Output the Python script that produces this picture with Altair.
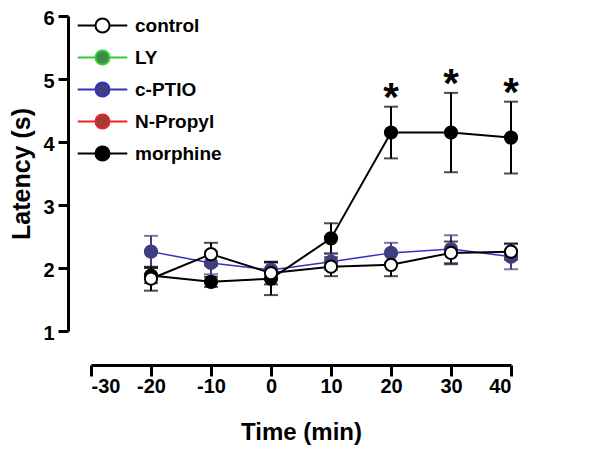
import altair as alt
import pandas as pd

# ---- data ----
times = [-20, -10, 0, 10, 20, 30, 40]
series_names = ["control", "LY", "c-PTIO", "N-Propyl", "morphine"]
line_colors = ["#000000", "#33cc33", "#3333bb", "#ee2222", "#000000"]
fill_colors = ["#ffffff", "#3d8a4a", "#3e3e80", "#a03c3c", "#000000"]

control_mean = [1.83, 2.22, 1.92, 2.02, 2.05, 2.24, 2.26]
control_sem = [0.19, 0.18, 0.18, 0.15, 0.18, 0.18, 0.13]
cptio_mean = [2.26, 2.08, 1.97, 2.10, 2.24, 2.30, 2.18]
cptio_sem = [0.25, 0.18, 0.12, 0.13, 0.16, 0.22, 0.20]
morphine_mean = [1.88, 1.78, 1.83, 2.47, 4.15, 4.15, 4.07]
morphine_sem = [0.12, 0.08, 0.26, 0.24, 0.41, 0.63, 0.57]
sig_times = [20, 30, 40]

x_ticks = [-30, -20, -10, 0, 10, 20, 30, 40]
y_ticks = [1, 2, 3, 4, 5, 6]

# ---- build table (draw order: c-PTIO, morphine, control) ----
style = {
    "c-PTIO": dict(pstroke="#3e3e80", ecol="#3e3e80", lw=1.5),
    "morphine": dict(pstroke="#000000", ecol="#000000", lw=2),
    "control": dict(pstroke="#000000", ecol="#000000", lw=2),
}
rows = []
for name, means, sems in [("c-PTIO", cptio_mean, cptio_sem),
                          ("morphine", morphine_mean, morphine_sem),
                          ("control", control_mean, control_sem)]:
    for t, m, s in zip(times, means, sems):
        rows.append(dict(series=name, time=t, mean=m, lo=m - s, hi=m + s,
                         sig=(name == "morphine" and t in sig_times),
                         **style[name]))
df = pd.DataFrame(rows)

FONT = "Liberation Sans"
legend_path = ("M-3.1,0H-0.875M0.875,0H3.1"
               "M-0.875,0A0.875,0.875,0,1,0,0.875,0A0.875,0.875,0,1,0,-0.875,0Z")
legend = alt.Legend(title=None, orient="none", legendX=2, legendY=0,
                    symbolType=legend_path, symbolSize=256, symbolStrokeWidth=2,
                    labelFont=FONT, labelFontSize=19, labelFontWeight="bold",
                    labelColor="black", rowPadding=9, labelOffset=23)

xenc = alt.X("time:Q", scale=alt.Scale(domain=[-30, 40], nice=False),
             axis=alt.Axis(values=x_ticks, title="Time (min)", grid=False,
                           labelExpr="'' + datum.value",
                           offset=34, domainWidth=3, domainColor="black",
                           tickWidth=3, tickColor="black", tickSize=11,
                           labelFont=FONT, labelFontSize=20, labelFontWeight="bold",
                           labelColor="black", labelPadding=0,
                           titleFont=FONT, titleFontSize=24, titleFontWeight="bold",
                           titleColor="black", titlePadding=24))
yscale = alt.Scale(domain=[1, 6], nice=False)
yenc = alt.Y("mean:Q", scale=yscale,
             axis=alt.Axis(values=y_ticks, title="Latency (s)", grid=False,
                           labelExpr="'' + datum.value",
                           offset=23, domainWidth=3, domainColor="black",
                           tickWidth=3, tickColor="black", tickSize=10,
                           labelFont=FONT, labelFontSize=20, labelFontWeight="bold",
                           labelColor="black", labelPadding=4, labelOffset=2.5,
                           titleFont=FONT, titleFontSize=25, titleFontWeight="bold",
                           titleColor="black", titlePadding=8))

base = alt.Chart(df)

lines = base.mark_line().encode(
    x=xenc, y=yenc,
    stroke=alt.Stroke("series:N", scale=alt.Scale(domain=series_names, range=line_colors),
                      legend=legend),
    strokeWidth=alt.StrokeWidth("lw:Q", scale=None, legend=None),
)

bars = base.mark_rule(strokeWidth=2).encode(
    x="time:Q", y=alt.Y("lo:Q", scale=yscale), y2="hi:Q",
    color=alt.Color("ecol:N", scale=None, legend=None),
)
caps_lo = base.mark_tick(orient="horizontal", size=14, thickness=2).encode(
    x="time:Q", y=alt.Y("lo:Q", scale=yscale),
    color=alt.Color("ecol:N", scale=None, legend=None),
)
caps_hi = base.mark_tick(orient="horizontal", size=14, thickness=2).encode(
    x="time:Q", y=alt.Y("hi:Q", scale=yscale),
    color=alt.Color("ecol:N", scale=None, legend=None),
)

points = base.mark_point(filled=True, size=150, strokeWidth=2, opacity=1,
                         shape="circle").encode(
    x="time:Q", y=alt.Y("mean:Q", scale=yscale),
    fill=alt.Fill("series:N", scale=alt.Scale(domain=series_names, range=fill_colors),
                  legend=legend),
    stroke=alt.Stroke("pstroke:N", scale=None, legend=None),
)

stars = base.transform_filter("datum.sig").mark_text(
    text="*", font=FONT, fontSize=40, fontWeight="bold", baseline="alphabetic",
    dy=4, color="black").encode(
    x="time:Q", y=alt.Y("hi:Q", scale=yscale),
)

chart = alt.layer(lines, bars, caps_lo, caps_hi, points, stars).properties(
    width=420, height=315,
    autosize=alt.AutoSizeParams(type="none"),
    padding={"left": 83, "top": 8, "right": 70, "bottom": 118},
).configure_view(stroke=None)

chart.save("out.html", embed_options={"renderer": "svg", "actions": False})
